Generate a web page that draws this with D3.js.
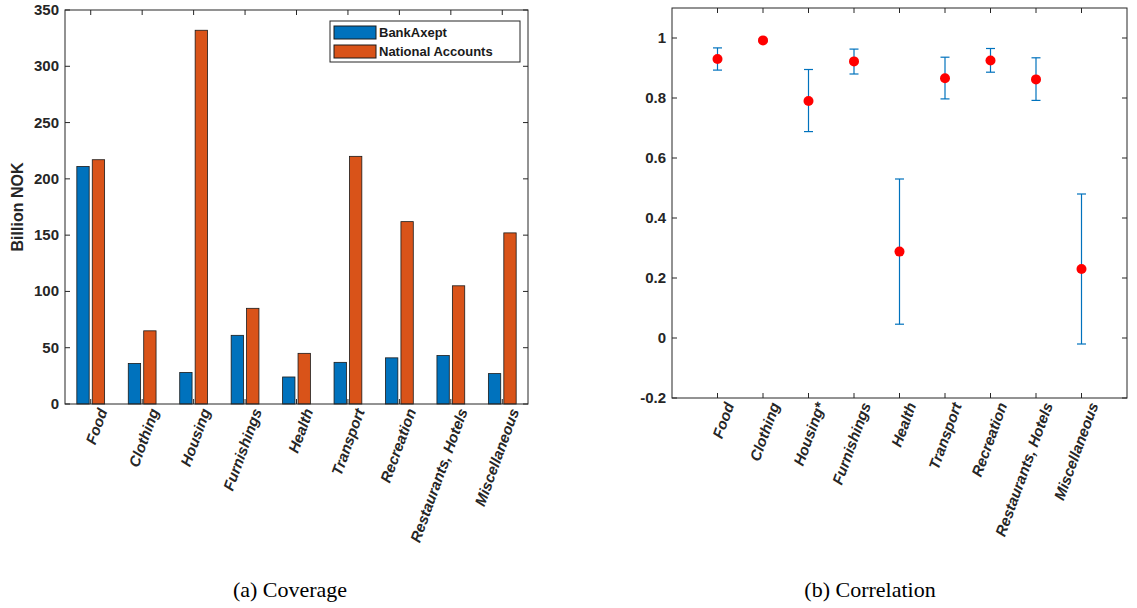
<!DOCTYPE html>
<html><head><meta charset="utf-8">
<script src="https://cdn.jsdelivr.net/npm/d3@7"></script>
<style>body{margin:0;background:#fff}text{font-family:"Liberation Sans",Arial,sans-serif}</style>
</head><body>
<svg id="c" width="1137" height="608"></svg>
<script>
// coverage data (billion NOK)
var cats = ["Food","Clothing","Housing","Furnishings","Health","Transport","Recreation","Restaurants, Hotels","Miscellaneous"];
var bankAxept = [211, 36, 28, 61, 24, 37, 41, 43, 27];
var natAccounts = [217, 65, 332, 85, 45, 220, 162, 105, 152];
// correlation data
var corrCats = ["Food","Clothing","Housing*","Furnishings","Health","Transport","Recreation","Restaurants, Hotels","Miscellaneous"];
var corr = [0.93, 0.992, 0.79, 0.922, 0.288, 0.866, 0.925, 0.862, 0.23];
var corrLo = [0.893, 0.988, 0.688, 0.88, 0.046, 0.797, 0.886, 0.792, -0.02];
var corrHi = [0.967, 0.996, 0.895, 0.963, 0.53, 0.936, 0.965, 0.934, 0.48];
var yTicksA = [0,50,100,150,200,250,300,350];
var yTicksB = [-0.2,0,0.2,0.4,0.6,0.8,1];

var svg = d3.select("#c");
var blue = "#0072BD", orange = "#D95319";

function frame(g, x0, x1, y0, y1, y, ticks, fmt, xs, labels) {
  g.append("rect").attr("x",x0).attr("y",y0).attr("width",x1-x0).attr("height",y1-y0)
    .attr("fill","none").attr("stroke","#262626");
  ticks.forEach(function(t){
    g.append("line").attr("x1",x0).attr("x2",x0+5).attr("y1",y(t)).attr("y2",y(t)).attr("stroke","#262626");
    g.append("line").attr("x1",x1).attr("x2",x1-5).attr("y1",y(t)).attr("y2",y(t)).attr("stroke","#262626");
    g.append("text").attr("x",x0-6).attr("y",y(t)+5).attr("text-anchor","end")
      .attr("font-size",15).attr("font-weight","bold").attr("fill","#262626").text(fmt(t));
  });
  xs.forEach(function(px,i){
    g.append("line").attr("x1",px).attr("x2",px).attr("y1",y1).attr("y2",y1-5).attr("stroke","#262626");
    g.append("line").attr("x1",px).attr("x2",px).attr("y1",y0).attr("y2",y0+5).attr("stroke","#262626");
    g.append("text").attr("transform","translate("+(px+17)+","+(y1+7)+") rotate(-70)")
      .attr("text-anchor","end").attr("font-size",15).attr("font-weight","bold").attr("font-style","italic")
      .attr("fill","#262626").text(labels[i]);
  });
}

// (a) Coverage
var ga = svg.append("g");
var xa = d3.scaleLinear().domain([0.5, 9.5]).range([65, 528]);
var ya = d3.scaleLinear().domain([0, 350]).range([404, 10]);
var bw = xa(0.24) - xa(0);
cats.forEach(function(c,i){
  ga.append("rect").attr("x",xa(i+1-0.15)-bw/2).attr("y",ya(bankAxept[i])).attr("width",bw)
    .attr("height",ya(0)-ya(bankAxept[i])).attr("fill",blue).attr("stroke","#1a1a1a").attr("stroke-width",0.8);
  ga.append("rect").attr("x",xa(i+1+0.15)-bw/2).attr("y",ya(natAccounts[i])).attr("width",bw)
    .attr("height",ya(0)-ya(natAccounts[i])).attr("fill",orange).attr("stroke","#1a1a1a").attr("stroke-width",0.8);
});
frame(ga, 65, 528, 10, 404, ya, yTicksA, d3.format("d"), cats.map(function(c,i){return xa(i+1);}), cats);
ga.append("text").attr("transform","translate(23,207) rotate(-90)").attr("text-anchor","middle")
  .attr("font-size",16).attr("font-weight","bold").attr("fill","#262626").text("Billion NOK");
var lg = ga.append("g");
lg.append("rect").attr("x",330).attr("y",21).attr("width",190).attr("height",41).attr("fill","#fff").attr("stroke","#262626");
[["BankAxept",blue],["National Accounts",orange]].forEach(function(d,i){
  lg.append("rect").attr("x",334).attr("y",26+i*19).attr("width",42).attr("height",13).attr("fill",d[1]).attr("stroke","#1a1a1a");
  lg.append("text").attr("x",379).attr("y",37+i*19).attr("font-size",13).attr("font-weight","bold").attr("fill","#1a1a1a").text(d[0]);
});
svg.append("text").attr("x",290).attr("y",597).attr("text-anchor","middle").attr("font-size",22)
  .style("font-family","'Liberation Serif','DejaVu Serif',serif").text("(a) Coverage");

// (b) Correlation
var gb = svg.append("g");
var xb = d3.scaleLinear().domain([0, 10]).range([672, 1127]);
var yb = d3.scaleLinear().domain([-0.2, 1.1]).range([398, 8]);
frame(gb, 672, 1127, 8, 398, yb, yTicksB, function(t){return String(+t.toFixed(1));},
  corrCats.map(function(c,i){return xb(i+1);}), corrCats);
corr.forEach(function(v,i){
  var px = xb(i+1);
  gb.append("line").attr("x1",px).attr("x2",px).attr("y1",yb(corrLo[i])).attr("y2",yb(corrHi[i])).attr("stroke",blue).attr("stroke-width",1.2);
  [corrLo[i],corrHi[i]].forEach(function(e){
    gb.append("line").attr("x1",px-4.5).attr("x2",px+4.5).attr("y1",yb(e)).attr("y2",yb(e)).attr("stroke",blue).attr("stroke-width",1.2);
  });
  gb.append("circle").attr("cx",px).attr("cy",yb(v)).attr("r",5).attr("fill","#ff0000");
});
svg.append("text").attr("x",870).attr("y",597).attr("text-anchor","middle").attr("font-size",22)
  .style("font-family","'Liberation Serif','DejaVu Serif',serif").text("(b) Correlation");
</script>
</body></html>
